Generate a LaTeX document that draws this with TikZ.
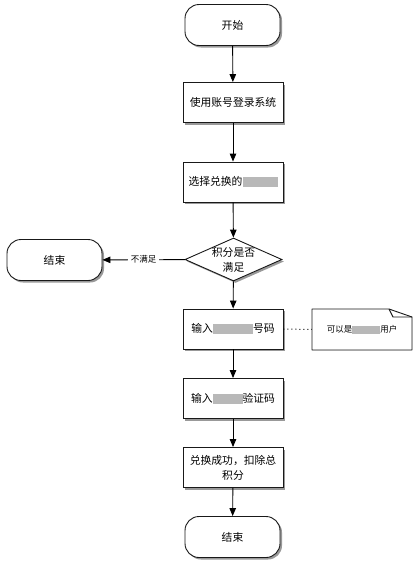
\documentclass[tikz,border=0pt]{standalone}
\usepackage{fontspec}
\setmainfont{Noto Sans CJK SC}
\usetikzlibrary{shapes.geometric,arrows.meta,shadows}
\newcommand{\blurbox}[1]{{\color{black!28}\rule[-0.12em]{#1}{0.9em}}}
\begin{document}
\begin{tikzpicture}[x=1pt,y=-1pt,
  base/.style={draw=black!90, line width=0.9pt, fill=white, text=black,
    font=\fontsize{10.8}{15}\selectfont, inner sep=0pt, align=center,
    drop shadow={shadow xshift=2pt,shadow yshift=-2pt,opacity=0.4,fill=black}},
  term/.style={base, rounded corners=14pt, minimum width=95pt, minimum height=41pt},
  proc/.style={base, minimum width=100pt, minimum height=40pt},
  decis/.style={base, diamond, minimum width=97pt, minimum height=43pt},
  flow/.style={draw=black, line width=0.9pt, -{Triangle[length=8pt,width=6.5pt]}},
  small/.style={font=\fontsize{8.5}{11}\selectfont, text=black},
]
\useasboundingbox (0,0) rectangle (417,565);

\node[term] (start) at (232.5,25) {开始};
\node[proc] (login) at (233,102.5) {使用账号登录系统};
\node[proc] (choose) at (233,182) {选择兑换的\blurbox{35pt}};
\node[decis] (dec) at (233.5,259.5) {};
\node[font=\fontsize{10.8}{15}\selectfont, text=black, align=center, inner sep=0pt] (dectext) at (233.5,260) {积分是否\\满足};
\node[term] (endL) at (54.5,260) {结束};
\node[proc] (input) at (233,329) {输入\blurbox{40pt}号码};
\node[proc] (code) at (233,398.5) {输入\blurbox{30pt}验证码};
\node[proc] (success) at (233,467.5) {兑换成功，扣除总\\积分};
\node[term] (endB) at (232.5,537) {结束};

% note with folded corner
\coordinate (n1) at (312,309);
\coordinate (n2) at (389,309);
\coordinate (n3) at (412,317);
\coordinate (n4) at (412,350);
\coordinate (n5) at (312,350);
\coordinate (nf) at (393,317);
\fill[black, opacity=0.4, shift={(2pt,-2pt)}] (n1) -- (n2) -- (n3) -- (n4) -- (n5) -- cycle;
\draw[black!90, line width=0.9pt, fill=white, line join=round] (n1) -- (n2) -- (n3) -- (n4) -- (n5) -- cycle;
\draw[black!90, line width=0.9pt, line join=round] (n2) -- (nf) -- (n3);
\node[small, minimum width=100pt, minimum height=41pt, inner sep=0pt] (note) at (362,329.5) {可以是\blurbox{28pt}用户};

% connectors
\draw[flow] (start) -- (login);
\draw[flow] (login) -- (choose);
\draw[flow] (choose) -- (dec);
\draw[flow] (dec) -- node[small, fill=white, inner sep=3pt] (nolabel) {不满足} (endL);
\draw[flow] (dec) -- (input);
\draw[flow] (input) -- (code);
\draw[flow] (code) -- (success);
\draw[flow] (success) -- (endB);
\draw[black, line width=1pt, dash pattern=on 1pt off 3pt] (input) -- (note);
\end{tikzpicture}
\end{document}
